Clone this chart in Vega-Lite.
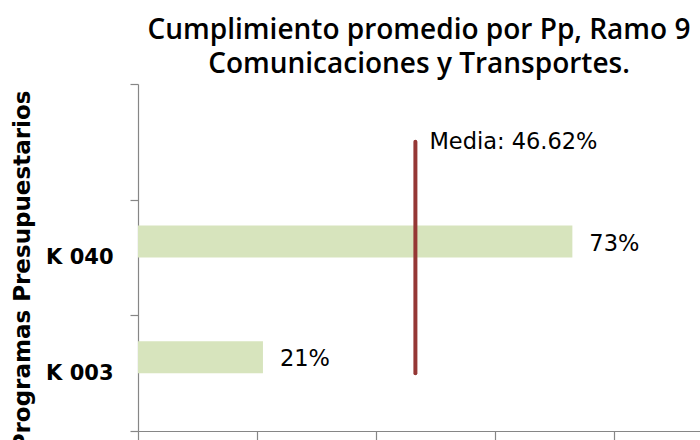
{
  "$schema": "https://vega.github.io/schema/vega-lite/v6.json",
  "autosize": {"type": "none"},
  "width": 562,
  "height": 347,
  "padding": {"left": 138, "top": 84, "right": 0, "bottom": 9},
  "background": "white",
  "title": {
    "text": ["Cumplimiento promedio por Pp, Ramo 9", "Comunicaciones y Transportes."],
    "font": "Open Sans",
    "fontSize": 28,
    "fontWeight": 600,
    "color": "#000000",
    "anchor": "middle",
    "offset": -6,
    "lineHeight": 34
  },
  "config": {"view": {"stroke": null}, "axis": {"grid": false}},
  "datasets": {
    "bars": [
      {"programa": "K 040", "cumplimiento": 0.73},
      {"programa": "K 003", "cumplimiento": 0.21}
    ],
    "media": [
      {"desde": " ", "hasta": "K 003", "valor": 0.4662, "etiqueta": "Media: 46.62%"}
    ]
  },
  "layer": [
    {
      "data": {"name": "bars"},
      "mark": {"type": "bar", "color": "#d7e4bd", "height": 32, "yOffset": -16},
      "encoding": {
        "y": {
          "field": "programa",
          "type": "nominal",
          "sort": null,
          "scale": {"domain": [" ", "K 040", "K 003"], "paddingInner": 0, "paddingOuter": 0},
          "axis": {
            "title": "Programas Presupuestarios",
            "tickBand": "extent",
            "tickSize": 8,
            "tickColor": "#868686",
            "domainColor": "#868686",
            "tickWidth": 1.2,
            "domainWidth": 1.2,
            "labelFont": "DejaVu Sans",
            "labelFontSize": 21,
            "labelFontWeight": "bold",
            "labelColor": "#000000",
            "labelPadding": 17,
            "titleFont": "DejaVu Sans",
            "titleFontSize": 23,
            "titleFontWeight": "bold",
            "titleColor": "#000000",
            "titleAngle": -90,
            "titleX": -116,
            "titleY": 186,
            "titleAlign": "center",
            "titleBaseline": "middle"
          }
        },
        "x": {
          "field": "cumplimiento",
          "type": "quantitative",
          "scale": {"domain": [0, 0.9445], "nice": false},
          "axis": {
            "values": [0, 0.2, 0.4, 0.6, 0.8],
            "labels": false,
            "title": null,
            "tickSize": 9,
            "tickColor": "#868686",
            "domainColor": "#868686",
            "tickWidth": 1.2,
            "domainWidth": 1.2
          }
        }
      }
    },
    {
      "data": {"name": "bars"},
      "mark": {"type": "text", "align": "left", "baseline": "middle", "dx": 17, "yOffset": -14, "font": "DejaVu Sans", "fontSize": 22.5, "color": "#000000"},
      "encoding": {
        "y": {"field": "programa", "type": "nominal", "sort": null},
        "x": {"field": "cumplimiento", "type": "quantitative"},
        "text": {"field": "cumplimiento", "type": "quantitative", "format": ".0%"}
      }
    },
    {
      "data": {"name": "media"},
      "mark": {"type": "rule", "color": "#953735", "strokeWidth": 4, "strokeCap": "round"},
      "encoding": {
        "y": {"field": "desde", "type": "nominal", "sort": null},
        "y2": {"field": "hasta"},
        "x": {"field": "valor", "type": "quantitative"}
      }
    },
    {
      "data": {"name": "media"},
      "mark": {"type": "text", "align": "left", "baseline": "middle", "dx": 14, "font": "DejaVu Sans", "fontSize": 22.5, "color": "#000000"},
      "encoding": {
        "y": {"field": "desde", "type": "nominal", "sort": null},
        "x": {"field": "valor", "type": "quantitative"},
        "text": {"field": "etiqueta", "type": "nominal"}
      }
    }
  ]
}
